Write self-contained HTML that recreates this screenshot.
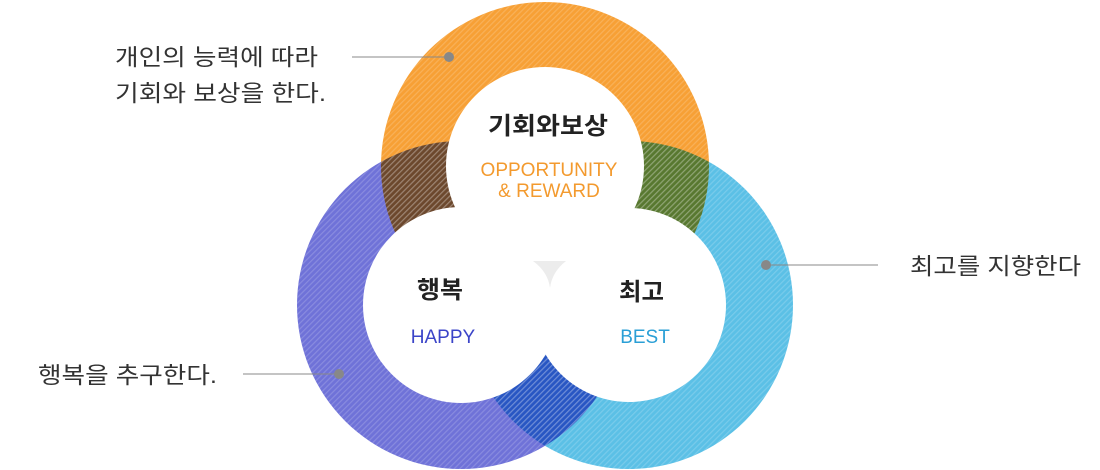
<!DOCTYPE html>
<html><head><meta charset="utf-8"><style>
html,body{margin:0;padding:0;background:#fff;width:1100px;height:470px;overflow:hidden}
svg{display:block}
text{font-family:"Liberation Sans","Noto Sans CJK KR",sans-serif}
</style></head><body>
<svg width="1100" height="470" viewBox="0 0 1100 470" xmlns="http://www.w3.org/2000/svg">
<defs>
<pattern id="st" width="4" height="4" patternUnits="userSpaceOnUse" patternTransform="rotate(45)">
<rect width="1.2" height="4" fill="#fff" fill-opacity="0.18"/>
</pattern>
</defs>
<g style="isolation:isolate">
<circle cx="545" cy="166" r="164" fill="#f7a035" style="mix-blend-mode:multiply"/>
<circle cx="461" cy="305" r="164" fill="#6f72d8" style="mix-blend-mode:multiply"/>
<circle cx="629" cy="305" r="164" fill="#5bc0e6" style="mix-blend-mode:multiply"/>
</g>
<circle cx="545" cy="166" r="164" fill="url(#st)"/>
<circle cx="461" cy="305" r="164" fill="url(#st)"/>
<circle cx="629" cy="305" r="164" fill="url(#st)"/>
<circle cx="545" cy="166" r="99" fill="#fff"/>
<circle cx="461" cy="305" r="98" fill="#fff"/>
<circle cx="629" cy="305" r="97" fill="#fff"/>
<path d="M533 261 L566 261 Q552 272 550 288 Q548 272 533 261 Z" fill="#ececec"/>
<text x="488" y="134" font-size="24" font-weight="bold" fill="#222" textLength="120" lengthAdjust="spacingAndGlyphs">기회와보상</text>
<text x="549" y="176" font-size="19" fill="#f39a2e" text-anchor="middle">OPPORTUNITY</text>
<text x="549" y="197" font-size="19" fill="#f39a2e" text-anchor="middle">&amp; REWARD</text>
<text x="417" y="298" font-size="24" font-weight="bold" fill="#222" textLength="46" lengthAdjust="spacingAndGlyphs">행복</text>
<text x="443" y="343" font-size="19" fill="#3b44c8" text-anchor="middle">HAPPY</text>
<text x="619" y="300" font-size="24" font-weight="bold" fill="#222" textLength="45" lengthAdjust="spacingAndGlyphs">최고</text>
<text x="645" y="343" font-size="19" fill="#2a9fd6" text-anchor="middle">BEST</text>
<g fill="#333" font-size="23">
<text x="115" y="65" textLength="203" lengthAdjust="spacingAndGlyphs">개인의 능력에 따라</text>
<text x="115" y="101" textLength="211" lengthAdjust="spacingAndGlyphs">기회와 보상을 한다.</text>
<text x="910" y="274" textLength="171" lengthAdjust="spacingAndGlyphs">최고를 지향한다</text>
<text x="38" y="383" textLength="179" lengthAdjust="spacingAndGlyphs">행복을 추구한다.</text>
</g>
<g stroke="#888" stroke-width="1">
<line x1="352" y1="57" x2="449" y2="57"/>
<line x1="766" y1="265" x2="878" y2="265"/>
<line x1="243" y1="374" x2="339" y2="374"/>
</g>
<g fill="#888">
<circle cx="449" cy="57" r="5"/>
<circle cx="766" cy="265" r="5"/>
<circle cx="339" cy="374" r="5"/>
</g>
</svg>
</body></html>
